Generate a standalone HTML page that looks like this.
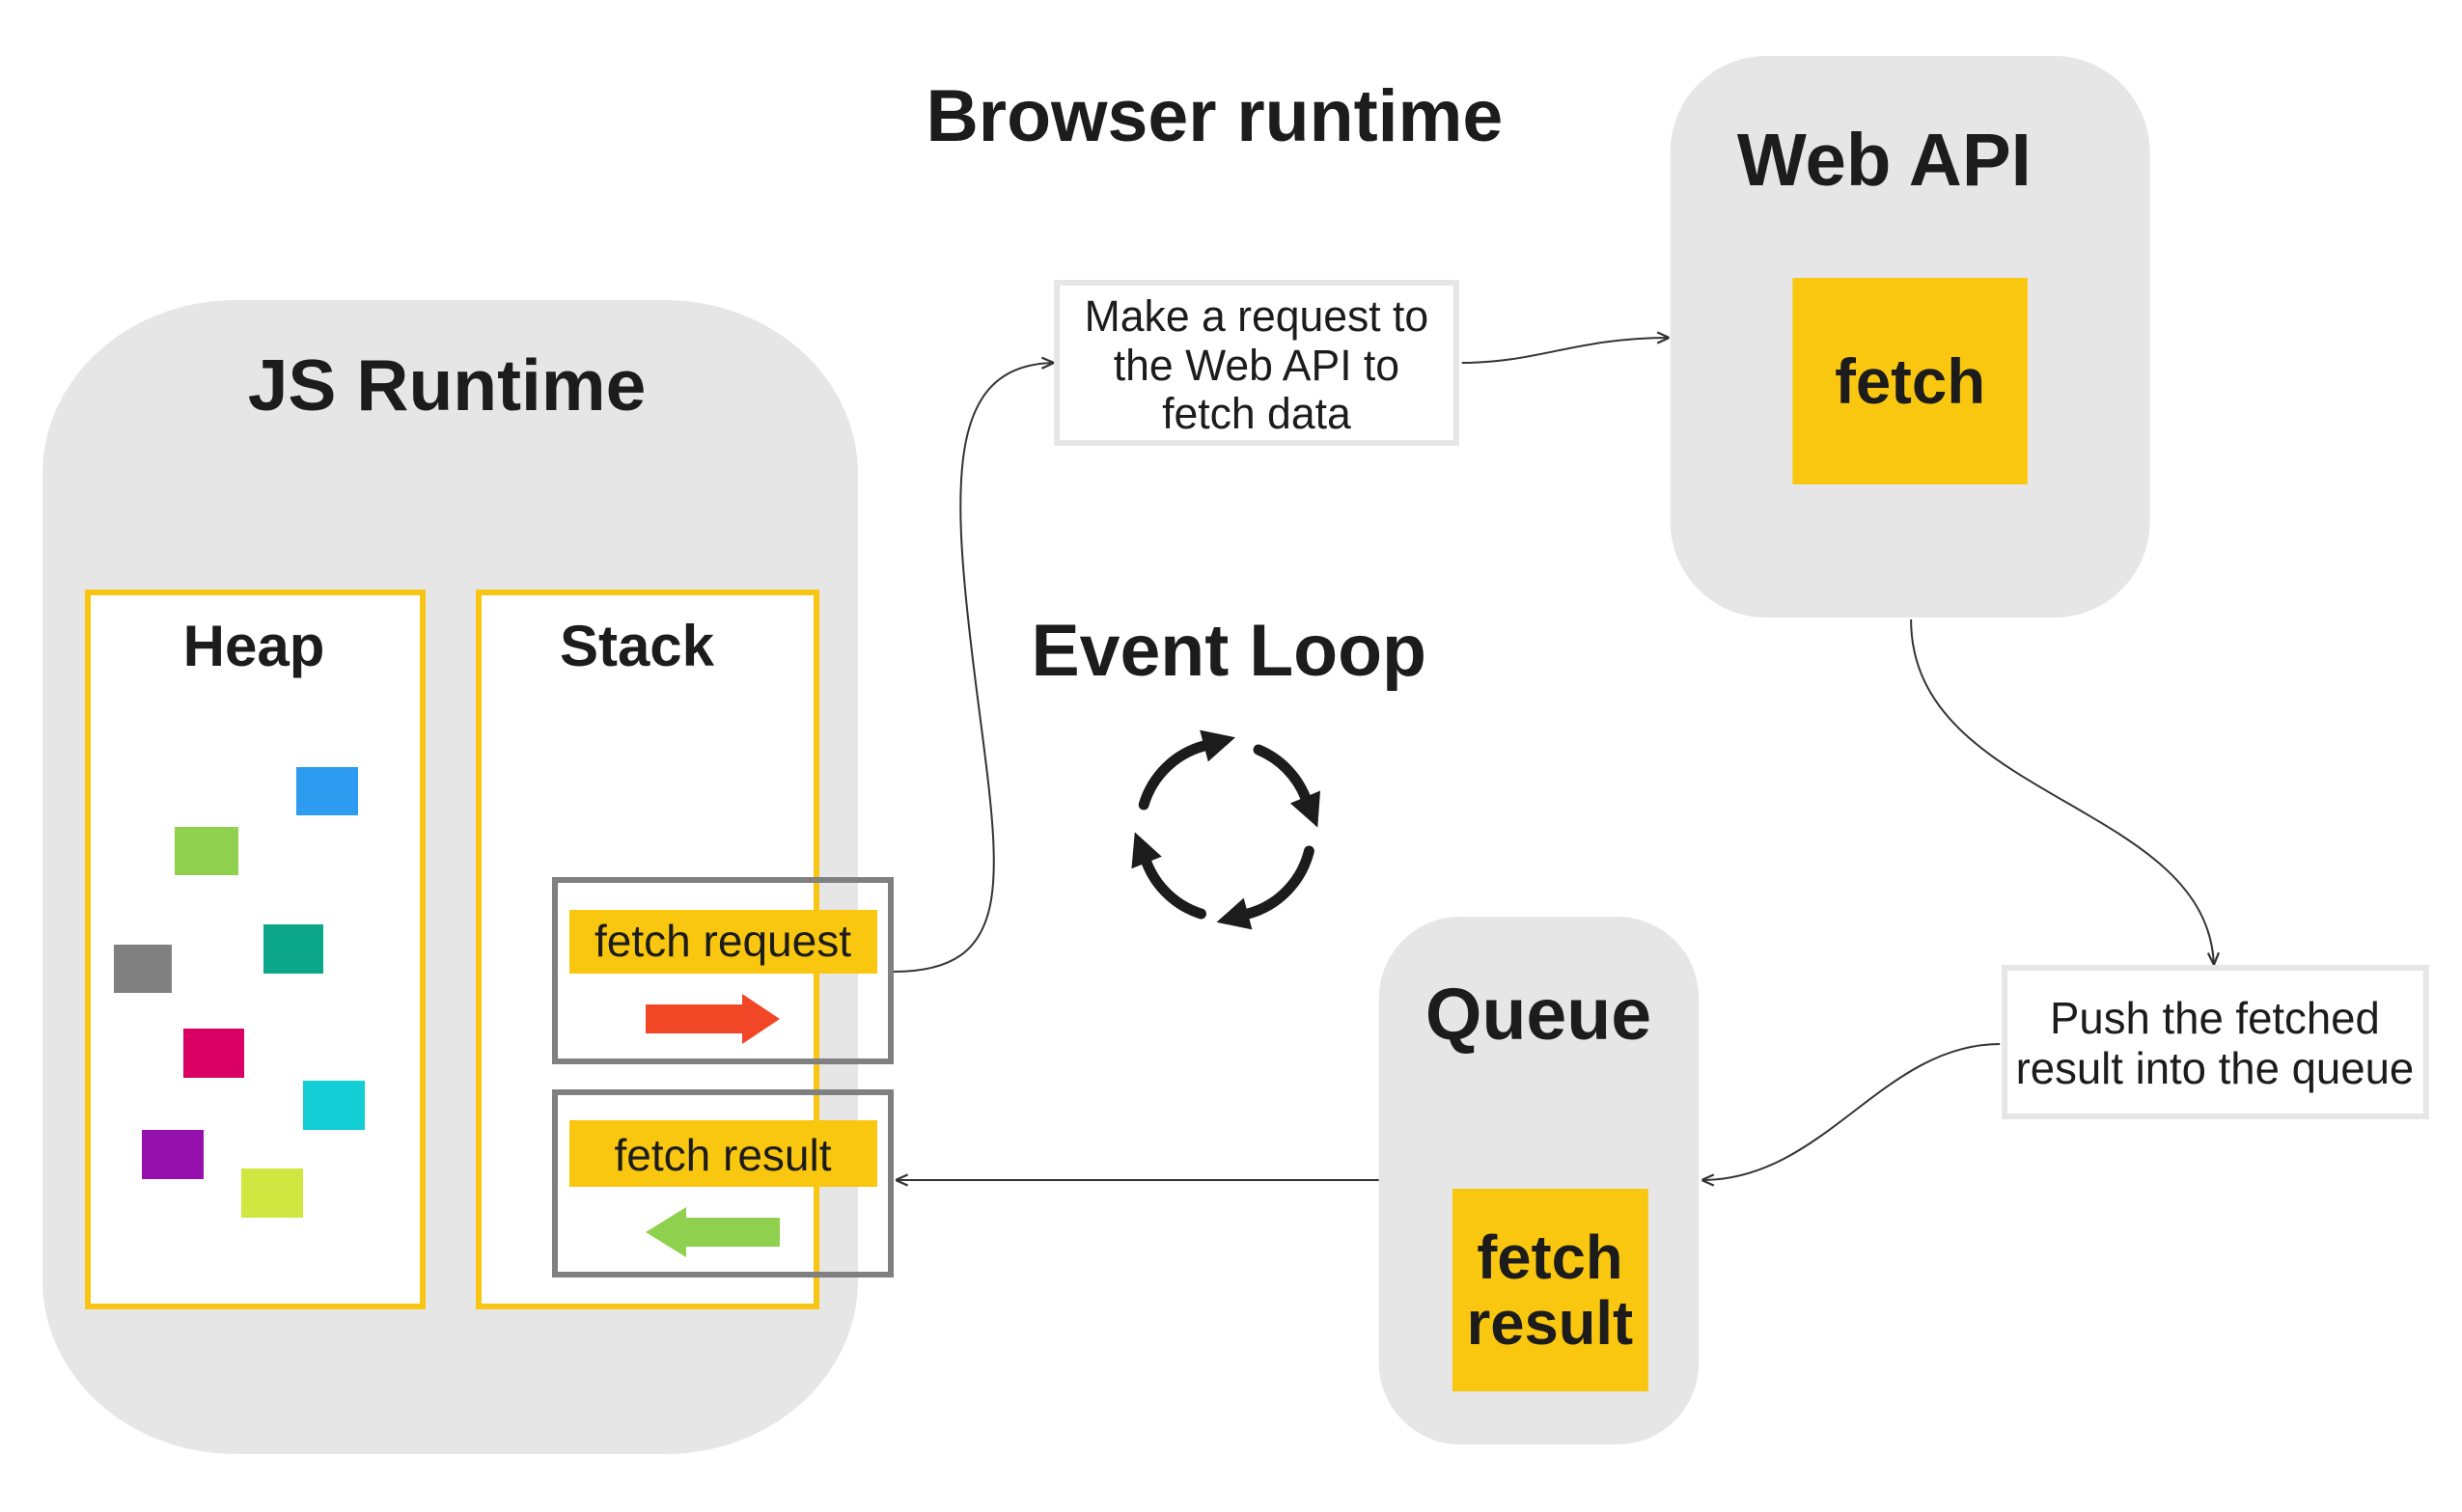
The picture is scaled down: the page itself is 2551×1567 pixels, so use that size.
<!DOCTYPE html>
<html><head><meta charset="utf-8"><style>
html,body{margin:0;padding:0;background:#fff;}
svg{display:block;}
text{font-family:"Liberation Sans",sans-serif;fill:#1c1c1c;}
.b{font-weight:bold;}
</style></head><body>
<svg width="2551" height="1567" viewBox="0 0 2551 1567" xmlns="http://www.w3.org/2000/svg">
<defs>
<marker id="ah" markerUnits="userSpaceOnUse" markerWidth="14" markerHeight="14" refX="10" refY="5" orient="auto" viewBox="0 0 10 10">
<path d="M1,1 L10,5 L1,9" fill="none" stroke="#333" stroke-width="1.6"/>
</marker>
<marker id="big" markerUnits="userSpaceOnUse" markerWidth="40" markerHeight="40" refX="2" refY="20" orient="auto" viewBox="0 0 40 40">
<path d="M2,3 L36,20 L2,37 z" fill="#1c1c1c"/>
</marker>
</defs>

<!-- JS Runtime -->
<rect x="44" y="311" width="845" height="1196" rx="200" ry="180" fill="#e6e6e6"/>
<text x="463" y="425" font-size="75" text-anchor="middle" class="b">JS Runtime</text>
<rect x="91" y="614" width="347" height="740" fill="#fff" stroke="#f8c514" stroke-width="6"/>
<rect x="496" y="614" width="350" height="740" fill="#fff" stroke="#f8c514" stroke-width="6"/>
<text x="263" y="690" font-size="60" text-anchor="middle" class="b">Heap</text>
<text x="660" y="690" font-size="60" text-anchor="middle" class="b">Stack</text>

<rect x="307" y="795" width="64" height="50" fill="#2d9bf0"/>
<rect x="181" y="857" width="66" height="50" fill="#8fd14f"/>
<rect x="118" y="979" width="60" height="50" fill="#808080"/>
<rect x="273" y="958" width="62" height="51" fill="#0ca789"/>
<rect x="190" y="1066" width="63" height="51" fill="#da0063"/>
<rect x="314" y="1120" width="64" height="51" fill="#12cdd4"/>
<rect x="147" y="1171" width="64" height="51" fill="#9510ac"/>
<rect x="250" y="1211" width="64" height="51" fill="#cee741"/>

<!-- stack items -->
<rect x="590" y="943" width="319" height="66" fill="#fac710"/>
<text x="749" y="991" font-size="46" text-anchor="middle">fetch request</text>
<polygon points="669,1041 769,1041 769,1030 808,1056 769,1082 769,1071 669,1071" fill="#f24726"/>
<rect x="575" y="912" width="348" height="188" fill="none" stroke="#808080" stroke-width="6"/>

<rect x="590" y="1161" width="319" height="69" fill="#fac710"/>
<text x="749" y="1213" font-size="46" text-anchor="middle">fetch result</text>
<polygon points="808,1262 711,1262 711,1251 669,1277 711,1303 711,1292 808,1292" fill="#8fd14f"/>
<rect x="575" y="1132" width="348" height="189" fill="none" stroke="#808080" stroke-width="6"/>

<g fill="none" stroke="#333" stroke-width="2">
<path d="M926,1007 C1060,1007 1035,900 1010,700 C985,500 980,378 1092,376" marker-end="url(#ah)"/>
<path d="M1429,1223 L928,1223" marker-end="url(#ah)"/>
</g>

<g transform="translate(10,0) scale(0.99,1)">
<!-- Titles -->
<text x="1261" y="146" font-size="76" text-anchor="middle" class="b">Browser runtime</text>

<!-- Web API -->
<rect x="1738" y="58" width="502" height="582" rx="100" ry="100" fill="#e6e6e6"/>
<text x="1962" y="192" font-size="77" text-anchor="middle" class="b">Web API</text>
<rect x="1866" y="288" width="246" height="214" fill="#fac710"/>
<text x="1989" y="418" font-size="66" text-anchor="middle" class="b">fetch</text>

<!-- Request box -->
<rect x="1096" y="293" width="418" height="166" fill="#fff" stroke="#e6e6e6" stroke-width="6"/>
<text x="1305" y="343" font-size="45" text-anchor="middle">Make a request to</text>
<text x="1305" y="394" font-size="45" text-anchor="middle">the Web API to</text>
<text x="1305" y="444" font-size="45" text-anchor="middle">fetch data</text>

<!-- Event loop -->
<text x="1276" y="700" font-size="76" text-anchor="middle" class="b">Event Loop</text>
<g fill="none" stroke="#1c1c1c" stroke-width="11" stroke-linecap="round">
<path d="M1187,834 A90,90 0 0 1 1250,773" marker-end="url(#big)"/>
<path d="M1307,777 A90,90 0 0 1 1356,826" marker-end="url(#big)"/>
<path d="M1360,882 A90,90 0 0 1 1296,947" marker-end="url(#big)"/>
<path d="M1247,947 A90,90 0 0 1 1190,894" marker-end="url(#big)"/>
</g>

<!-- Queue -->
<rect x="1433" y="950" width="335" height="547" rx="85" ry="85" fill="#e6e6e6"/>
<text x="1600" y="1077" font-size="76" text-anchor="middle" class="b">Queue</text>
<rect x="1510" y="1232" width="205" height="210" fill="#fac710"/>
<text x="1612" y="1325" font-size="64" text-anchor="middle" class="b">fetch</text>
<text x="1612" y="1393" font-size="64" text-anchor="middle" class="b">result</text>

<!-- Push box -->
<rect x="2088" y="1003" width="441" height="154" fill="#fff" stroke="#e6e6e6" stroke-width="6"/>
<text x="2308" y="1071" font-size="46" text-anchor="middle">Push the fetched</text>
<text x="2308" y="1123" font-size="46" text-anchor="middle">result into the queue</text>

<!-- connectors -->
<g fill="none" stroke="#333" stroke-width="2">
<path d="M1520,376 C1600,376 1640,350 1737,350" marker-end="url(#ah)"/>
<path d="M1990,642 C1990,830 2300,830 2307,1000" marker-end="url(#ah)"/>
<path d="M2083,1082 C1960,1082 1900,1223 1771,1223" marker-end="url(#ah)"/>
</g>
</g>
</svg>
</body></html>
